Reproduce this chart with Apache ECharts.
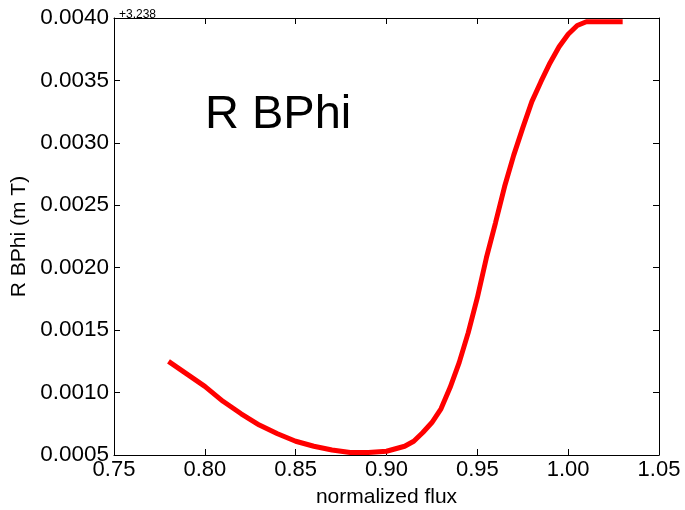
<!DOCTYPE html>
<html>
<head>
<meta charset="utf-8">
<script src="https://cdn.jsdelivr.net/npm/echarts@6/dist/echarts.min.js"></script>
<style>html,body{margin:0;padding:0;background:#fff}#c{width:685px;height:510px}</style>
</head>
<body>
<div id="c"></div>
<script>
const yOffset = 3.238;
const fluxX = [0.780,0.790,0.800,0.810,0.820,0.830,0.840,0.850,0.860,0.870,0.880,0.890,0.900,0.905,0.910,0.915,0.920,0.925,0.930,0.935,0.940,0.945,0.950,0.955,0.960,0.965,0.970,0.975,0.980,0.985,0.990,0.995,1.000,1.005,1.010,1.015,1.020,1.025,1.030];
const rbphiOffsetY = [0.00125,0.00115,0.00105,0.00093,0.00083,0.00074,0.00067,0.00061,0.00057,0.00054,0.00052,0.00052,0.00053,0.00055,0.00057,0.00061,0.00068,0.00076,0.00087,0.00104,0.00124,0.00148,0.00176,0.00208,0.00236,0.00265,0.00290,0.00312,0.00333,0.00349,0.00364,0.00377,0.00387,0.00394,0.00397,0.00397,0.00397,0.00397,0.00397];
const xTicks = [0.75,0.80,0.85,0.90,0.95,1.00,1.05];
const yTicks = [0.0005,0.0010,0.0015,0.0020,0.0025,0.0030,0.0035,0.0040];

const FONT = 'Liberation Sans, Arial, sans-serif';
const chart = echarts.init(document.getElementById('c'), null, {renderer:'canvas'});
const data = fluxX.map((x,i)=>[x, rbphiOffsetY[i]]);
const axisCommon = {
  axisLine:{show:true,onZero:false,lineStyle:{color:'#000',width:1}},
  axisTick:{show:true,inside:true,length:6,lineStyle:{color:'#000',width:1}},
  splitLine:{show:false}
};
chart.setOption({
  animation:false,
  backgroundColor:'#fff',
  title:[
    {text:'R BPhi',left:200,top:87,textStyle:{fontFamily:FONT,fontSize:47,fontWeight:'normal',color:'#000'}},
    {text:'+' + yOffset.toFixed(3),left:114,top:4,textStyle:{fontFamily:FONT,fontSize:12,fontWeight:'normal',color:'#000'}}
  ],
  grid:{left:114,right:26,top:18,bottom:55,containLabel:false,outerBoundsMode:'none'},
  xAxis:[
    Object.assign({type:'value',position:'bottom',min:xTicks[0],max:xTicks[xTicks.length-1],interval:0.05,
      name:'normalized flux',nameLocation:'middle',nameGap:32,
      nameTextStyle:{fontFamily:FONT,fontSize:21,color:'#000'},
      axisLabel:{fontFamily:FONT,fontSize:22,color:'#000',margin:4,formatter:v=>v.toFixed(2)}},axisCommon),
    Object.assign({type:'value',position:'top',min:xTicks[0],max:xTicks[xTicks.length-1],interval:0.05,
      axisLabel:{show:false}},axisCommon)
  ],
  yAxis:[
    Object.assign({type:'value',position:'left',min:yTicks[0],max:yTicks[yTicks.length-1],interval:0.0005,
      name:'R BPhi (m T)',nameLocation:'middle',nameGap:84,
      nameTextStyle:{fontFamily:FONT,fontSize:21,color:'#000'},
      axisLabel:{fontFamily:FONT,fontSize:22.5,color:'#000',margin:5,formatter:v=>v.toFixed(4)}},axisCommon),
    Object.assign({type:'value',position:'right',min:yTicks[0],max:yTicks[yTicks.length-1],interval:0.0005,
      axisLabel:{show:false}},axisCommon)
  ],
  series:[{
    type:'line',xAxisIndex:0,yAxisIndex:0,data:data,showSymbol:false,symbol:'none',
    lineStyle:{color:'#ff0000',width:5},clip:true,smooth:false
  }]
});
</script>
</body>
</html>
